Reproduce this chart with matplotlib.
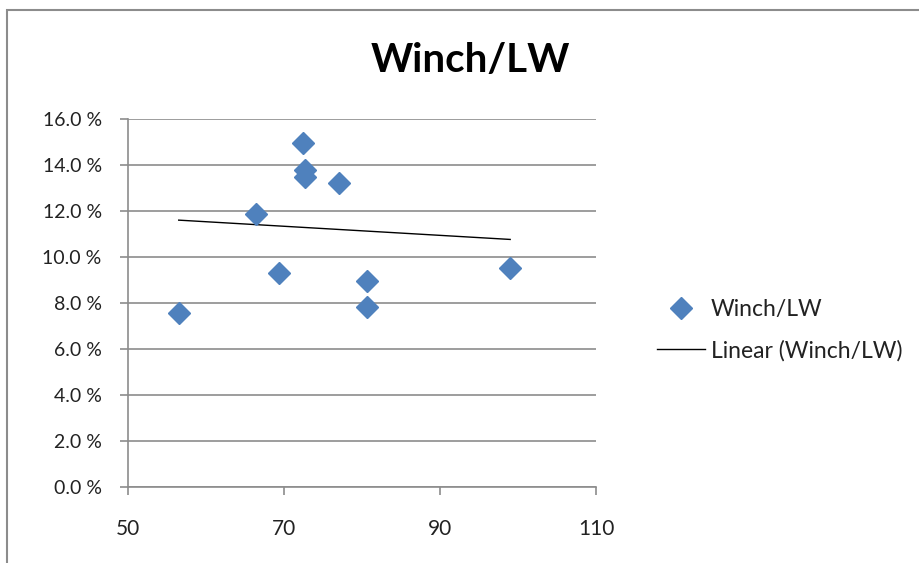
import numpy as np
import matplotlib
matplotlib.use("Agg")
import matplotlib.pyplot as plt
from matplotlib.ticker import FuncFormatter
from matplotlib.patches import Rectangle

# data
lw = [56.5, 66.4, 69.4, 72.5, 72.7, 72.7, 77.0, 80.7, 80.7, 99.0]
winch_pct = [7.55, 11.85, 9.29, 14.94, 13.78, 13.49, 13.2, 8.96, 7.83, 9.5]
# trend line ends as drawn in the chart
trend_x = [56.5, 99.0]
trend_y = [11.6, 10.76]
x_ticks = [50, 70, 90, 110]
y_ticks = [0, 2, 4, 6, 8, 10, 12, 14, 16]

plt.rcParams['font.family'] = ['Lato', 'DejaVu Sans']

fig = plt.figure(figsize=(9.19, 5.63), dpi=100)
ax = fig.add_axes([0.1393, 0.1355, 0.5092, 0.6531])

ax.plot(lw, winch_pct, linestyle='none', marker='D', markersize=11, color='#4F81BD',
        label='Winch/LW', zorder=3)
ax.plot(trend_x, trend_y, color='black', linewidth=1.0, label='Linear (Winch/LW)', zorder=2)

ax.set_xlim(50, 110)
ax.set_ylim(0, 16)
ax.set_xticks(x_ticks)
ax.set_yticks(y_ticks)
ax.yaxis.set_major_formatter(FuncFormatter(lambda v, p: '%.1f %%' % v))
ax.grid(axis='y', color='#8C8C8C', linewidth=1.2)
ax.set_axisbelow(True)
for s in ['top', 'right']:
    ax.spines[s].set_visible(False)
for s in ['left', 'bottom']:
    ax.spines[s].set_color('#8C8C8C')
    ax.spines[s].set_linewidth(1.2)
ax.tick_params(axis='both', colors='#8C8C8C', labelcolor='#222222',
               length=6, width=1.2)
ax.tick_params(axis='x', pad=17, labelsize=15)
ax.tick_params(axis='y', pad=13, labelsize=14)

fig.text(0.512, 0.893, 'Winch/LW', ha='center', va='center', fontsize=29, fontweight='bold')

leg = fig.legend(loc='center left', bbox_to_anchor=(0.6925, 0.413), frameon=False,
                 fontsize=16.5, handlelength=2.1, labelspacing=0.85, handletextpad=0.25)
for t in leg.get_texts():
    t.set_color('#222222')

# outer chart border
fig.patches.append(Rectangle((7 / 919, -0.05), 1.1, 1.05 - 10 / 563, transform=fig.transFigure,
                             fill=False, edgecolor='#8C8C8C', linewidth=1.5))

fig.savefig('out.png', dpi=100)
